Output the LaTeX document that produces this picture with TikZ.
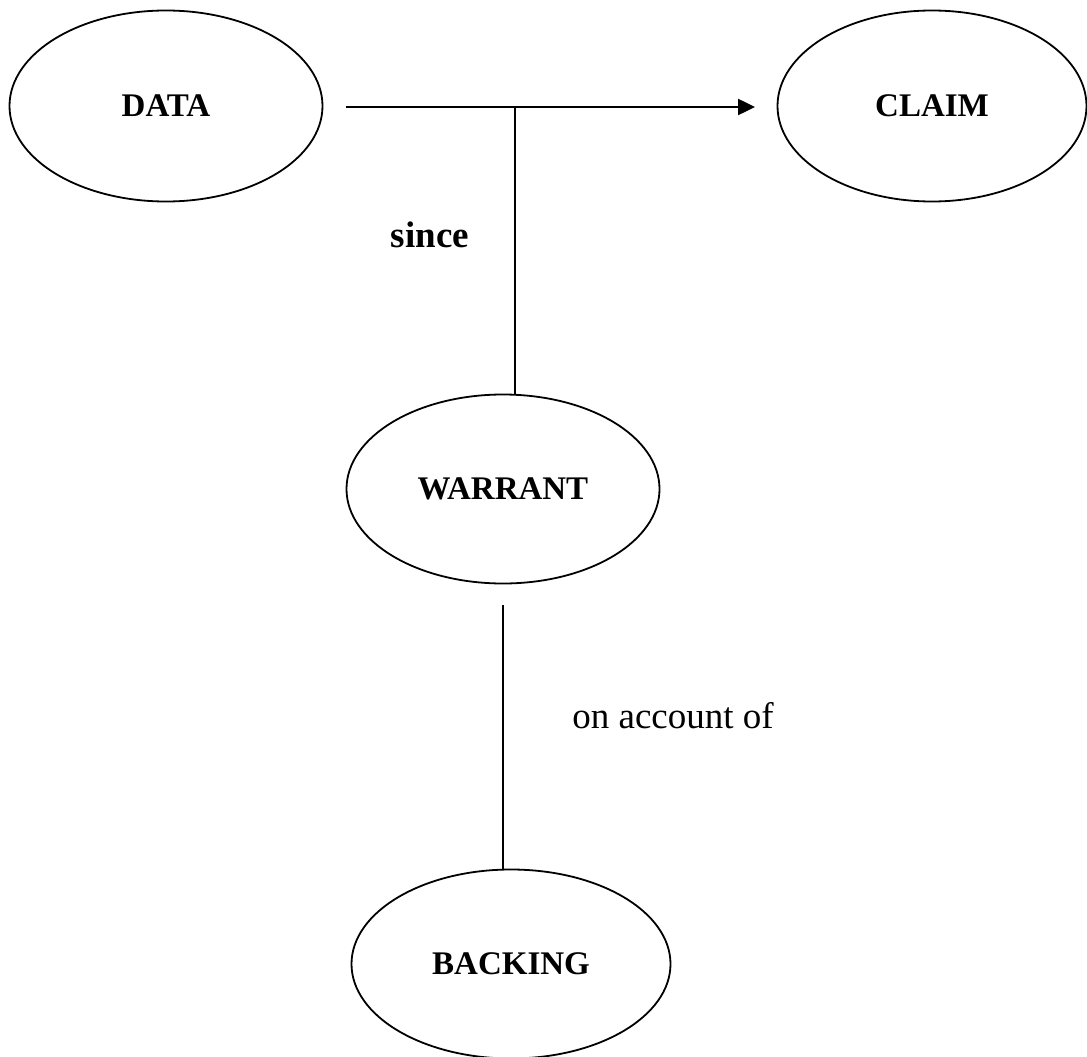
\documentclass[tikz,border=0pt]{standalone}
\usepackage{fontspec}
\setmainfont{Liberation Serif}
\usetikzlibrary{shapes.geometric,arrows.meta}
\begin{document}
\begin{tikzpicture}[x=1pt,y=-1pt,
  oval/.style={draw,ellipse,line width=1.8pt,inner sep=0pt,
    font=\fontsize{33}{39}\selectfont\bfseries},
  conn/.style={line width=1.6pt},
  lbl/.style={inner sep=0pt,anchor=base}]
\useasboundingbox (0,0) rectangle (1087,1057);
\node[oval,minimum width=313pt,minimum height=191pt] (data) at (166,106) {DATA};
\node[oval,minimum width=309pt,minimum height=191pt] (claim) at (932,106) {CLAIM};
\node[oval,minimum width=313pt,minimum height=189pt] (warrant) at (503,489) {WARRANT};
\node[oval,minimum width=319pt,minimum height=189pt] (backing) at (511,964) {BACKING};
\coordinate (a1) at (346,107);
\coordinate (a2) at (755,107);
\coordinate (j) at (515,107);
\coordinate (b1) at (503,605);
\draw[line width=2.5pt,-{Triangle[length=17pt,width=16pt]}] (a1) -- (a2);
\draw[conn] (j) -- (j |- warrant.north);
\draw[conn] (b1) -- (b1 |- backing.north);
\node[lbl,font=\fontsize{37}{43}\selectfont\bfseries] (since) at (430,247) {since};
\node[lbl,font=\fontsize{37}{43}\selectfont] (onacc) at (673,728) {on account of};
\end{tikzpicture}
\end{document}
